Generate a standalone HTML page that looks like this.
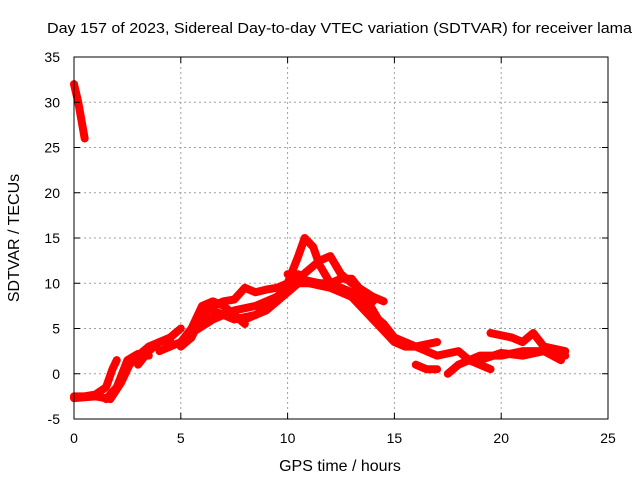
<!DOCTYPE html>
<html><head><meta charset="utf-8"><style>
body{margin:0;background:#fff;}
svg{display:block;font-family:"Liberation Sans",sans-serif;}
</style></head><body>
<svg id="chart" width="640" height="480" viewBox="0 0 640 480" xmlns="http://www.w3.org/2000/svg">
<rect width="640" height="480" fill="#fff"/>
<g id="grid"></g>
<g id="series"></g>
<rect x="74" y="57" width="534" height="362" fill="none" stroke="#000" stroke-width="1"/>
<g id="ticks"></g>
<text x="47" y="33" font-size="15" textLength="585" lengthAdjust="spacingAndGlyphs">Day 157 of 2023, Sidereal Day-to-day VTEC variation (SDTVAR) for receiver lama</text>
<text x="340" y="471" font-size="16" text-anchor="middle">GPS time / hours</text>
<text x="19" y="238" font-size="16" text-anchor="middle" transform="rotate(-90 19 238)">SDTVAR / TECUs</text>
</svg>
<script>
const xTicks=[0,5,10,15,20,25];
const yTicks=[-5,0,5,10,15,20,25,30,35];
const track1=[[0,32],[0.1,31],[0.2,30],[0.35,28],[0.5,26]];
const track2=[[0,-2.5],[0.5,-2.5],[1,-2.3],[1.5,-1.5],[1.8,0.5],[2.0,1.5]];
const track3=[[0,-2.7],[1,-2.5],[1.7,-2.8],[2.2,-1],[2.6,1],[3,2],[3.5,3],[4,3.5],[4.5,3.8]];
const track4=[[1.5,-2.8],[2,-1.5],[2.5,1.5],[3,2.2],[3.5,2]];
const track5=[[3,1],[3.5,2.5],[4,3.5],[4.5,4],[5,5]];
const track6=[[4,2.5],[5,3.5],[5.5,5],[6,7.5],[6.5,8],[7,7.5],[7.5,6.5],[8,5.5]];
const track7=[[5,3],[5.5,4],[6,6.5],[6.5,7.5],[7,8],[7.5,8.2],[8,9.5],[8.5,9],[9,9.3],[9.5,9.5],[10,10],[10.5,13],[10.8,15],[11.2,14],[11.5,12],[12,10],[12.5,10.5],[13,10.5],[13.5,9],[14,7],[14.5,5],[15,4],[16,3],[17,3.5]];
const track8=[[6,6],[7,6.5],[8,6],[9,7],[10,9],[10.5,10],[11,10],[12,9.5],[13,8.5],[14,6],[15,3.5],[15.5,3],[16,3],[17,2],[18,2.5],[18.5,1.5],[19,1],[19.5,0.5]];
const track9=[[9,7.5],[10,9.5],[11,11.5],[11.5,12.5],[12,13],[12.5,11],[13,10],[14,8.5],[14.5,8]];
const track10=[[16,1],[16.5,0.5],[17,0.5]];
const track11=[[17.5,0],[18,1],[19,2],[20,2],[21,2.5],[22,2.5],[23,2]];
const track12=[[19.5,4.5],[20.5,4],[21,3.5],[21.5,4.5],[22,3],[23,2.5]];
const track13=[[19,1.5],[20,2.3],[21,2],[22,2.5],[22.8,1.5]];
const track14=[[10,11],[11,10],[12,10],[13,9],[13.5,8],[14,8]];
const track15=[[5.5,4.5],[6.5,6],[7.5,7],[8.5,7.5],[9.5,8.5],[10,9.5],[10.5,11]];
const track16=[[6.5,7],[7.5,6],[8.5,6.5],[9.5,8],[10.5,10.5],[11.5,10],[12.5,9.5],[13.5,7.5],[14.5,5.5],[15,4]];
const tracks=[track1,track2,track3,track4,track5,track6,track7,track8,track9,track10,track11,track12,track13,track14,track15,track16];

const X0=74,X1=608,Y0=419,Y1=57;
const sx=v=>X0+(v-0)/(25-0)*(X1-X0);
const sy=v=>Y0-(v-(-5))/(35-(-5))*(Y0-Y1);
const NS="http://www.w3.org/2000/svg";
const grid=document.getElementById('grid'),ticks=document.getElementById('ticks'),ser=document.getElementById('series');
function mk(tag,attrs,parent){const e=document.createElementNS(NS,tag);for(const k in attrs)e.setAttribute(k,attrs[k]);parent.appendChild(e);return e;}
xTicks.forEach(t=>{
  const x=sx(t);
  if(t>0&&t<25){const g=mk('line',{x1:x,x2:x,y1:Y1,y2:Y0,stroke:'#a0a0a0','stroke-dasharray':'2,3'},grid);
  
  }
  const a=mk('line',{x1:x,x2:x,y1:Y0,y2:Y0-6,stroke:'#000'},ticks);
  
  
  const b=mk('line',{x1:x,x2:x,y1:Y1,y2:Y1+6,stroke:'#000'},ticks);
  
  
  const l=mk('text',{x:x,y:Y0+24,'font-size':14,'text-anchor':'middle'},ticks);l.textContent=t;
  
  
});
yTicks.forEach(t=>{
  const y=sy(t);
  if(t>-5&&t<35){const g=mk('line',{x1:X0,x2:X1,y1:y,y2:y,stroke:'#a0a0a0','stroke-dasharray':'2,3'},grid);
  
  }
  const a=mk('line',{x1:X0,x2:X0+6,y1:y,y2:y,stroke:'#000'},ticks);
  
  
  const b=mk('line',{x1:X1,x2:X1-6,y1:y,y2:y,stroke:'#000'},ticks);
  
  
  const l=mk('text',{x:X0-14,y:y+5,'font-size':14,'text-anchor':'end'},ticks);l.textContent=t;
  
  
});
tracks.forEach((tr,i)=>{
  const p=mk('polyline',{points:tr.map(d=>sx(d[0])+','+sy(d[1])).join(' '),fill:'none',stroke:'#ff0000','stroke-width':8,'stroke-linejoin':'round','stroke-linecap':'round'},ser);
  
  
});
</script>
</body></html>
